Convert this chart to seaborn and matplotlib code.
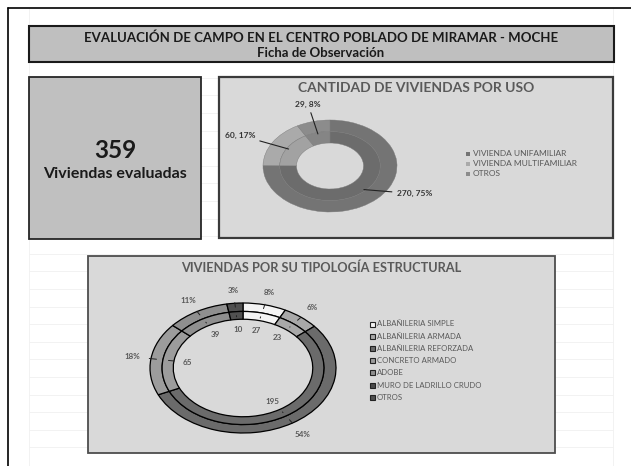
import numpy as np
import matplotlib
matplotlib.use("Agg")
import matplotlib.pyplot as plt
import seaborn as sns
from matplotlib.patches import Rectangle

total_viviendas = 359
uso_labels = ["VIVIENDA UNIFAMILIAR", "VIVIENDA MULTIFAMILIAR", "OTROS"]
uso_values = [270, 60, 29]
tipo_labels = ["ALBAÑILERIA SIMPLE", "ALBAÑILERIA ARMADA", "ALBAÑILERIA REFORZADA",
               "CONCRETO ARMADO", "ADOBE", "MURO DE LADRILLO CRUDO", "OTROS"]
tipo_values = [27, 23, 195, 65, 39, 0, 10]

# Grey palette (picture is greyscale)
uso_colors = ["#747474", "#aaaaaa", "#8c8c8c"]
uso_inner = ["#6c6c6c", "#a2a2a2", "#858585"]
tipo_colors = ["#f4f4f4", "#a8a8a8", "#6b6b6b", "#9c9c9c", "#8f8f8f", "#4a4a4a", "#505050"]

sns.set_style("white")
plt.rcParams["font.family"] = ["Lato", "DejaVu Sans"]

W, H = 631, 466
fig = plt.figure(figsize=(W / 100, H / 100), dpi=100)
fig.patch.set_facecolor("white")

# Background axes in pixel coordinates
bg = fig.add_axes([0, 0, 1, 1])
bg.set_xlim(0, W)
bg.set_ylim(H, 0)
bg.axis("off")


def px_axes(x0, y0, x1, y1):
    return fig.add_axes([x0 / W, 1 - y1 / H, (x1 - x0) / W, (y1 - y0) / H])


# faint spreadsheet grid
bg.hlines(np.arange(25, 460, 17.6), 29, 613, color="#f0f0f0", lw=0.6, zorder=0)
bg.vlines([29, 613], 8, H, color="#f0f0f0", lw=0.6, zorder=0)

# outer frame
bg.plot([8, 8], [8, H], color="black", lw=1.2, zorder=1)
bg.plot([8, W], [8, 8], color="black", lw=1.2, zorder=1)

# boxes
bg.add_patch(Rectangle((29, 26), 585, 36, facecolor="#bfbfbf", edgecolor="#1a1a1a", lw=1.5, zorder=2))
bg.add_patch(Rectangle((29, 77), 172, 162, facecolor="#c0c0c0", edgecolor="#262626", lw=1.3, zorder=2))
bg.add_patch(Rectangle((219, 77), 394, 161, facecolor="#d9d9d9", edgecolor="#3a3a3a", lw=1.6, zorder=2))
bg.add_patch(Rectangle((88, 256), 467, 197, facecolor="#d9d9d9", edgecolor="#4d4d4d", lw=1.3, zorder=2))

# header text
bg.text(321, 38, "EVALUACIÓN DE CAMPO EN EL CENTRO POBLADO DE MIRAMAR - MOCHE",
        ha="center", va="center", fontsize=9.5, fontweight="bold", color="#1a1a1a", zorder=3)
bg.text(321, 53, "Ficha de Observación", ha="center", va="center",
        fontsize=9.5, fontweight="bold", color="#1a1a1a", zorder=3)

# KPI box
bg.text(115, 150, str(total_viviendas), ha="center", va="center",
        fontsize=17.5, fontweight="bold", color="#1a1a1a", zorder=3)
bg.text(115, 174, "Viviendas evaluadas", ha="center", va="center",
        fontsize=11.5, fontweight="bold", color="#1a1a1a", zorder=3)

# panel titles
bg.text(416, 88, "CANTIDAD DE VIVIENDAS POR USO", ha="center", va="center",
        fontsize=10, fontweight="bold", color="#5a5a5a", zorder=3)
bg.text(321, 268, "VIVIENDAS POR SU TIPOLOGÍA ESTRUCTURAL", ha="center", va="center",
        fontsize=9.2, fontweight="bold", color="#5a5a5a", zorder=3)

# legends
for i, (lab, col) in enumerate(zip(uso_labels, uso_colors)):
    y = 154 + i * 10
    bg.add_patch(Rectangle((466, y - 2), 4, 4, facecolor=col, edgecolor="none", zorder=3))
    bg.text(473, y, lab, ha="left", va="center", fontsize=6, color="#595959", zorder=3)

for i, (lab, col) in enumerate(zip(tipo_labels, tipo_colors)):
    y = 324 + i * 12.2
    bg.add_patch(Rectangle((370, y - 2.5), 5, 5, facecolor=col, edgecolor="#222222", lw=0.8, zorder=3))
    bg.text(377, y, lab, ha="left", va="center", fontsize=5.6, color="#595959", zorder=3)


def pct(v, tot):
    return f"{round(100 * v / tot):.0f}%"


def mid_angles(values):
    tot = sum(values)
    start = 90.0
    out = []
    for v in values:
        span = 360.0 * v / tot
        out.append(np.deg2rad(start - span / 2))
        start -= span
    return out


# ---- donut 1: uso ----
ax1 = px_axes(263, 120, 397, 212)
ax1.pie(uso_values, colors=uso_colors, startangle=90, counterclock=False, radius=1.0,
        wedgeprops=dict(width=0.25, edgecolor="#7a7a7a", linewidth=0.3))
ax1.pie(uso_values, colors=uso_inner, startangle=90, counterclock=False, radius=0.75,
        wedgeprops=dict(width=0.25, edgecolor="#7a7a7a", linewidth=0.3))
ax1.set_aspect("auto")
ax1.set_xlim(-1, 1)
ax1.set_ylim(-1, 1)
ax1.axis("off")

tot = sum(uso_values)
for v, a in zip(uso_values, mid_angles(uso_values)):
    c, s = np.cos(a), np.sin(a)
    R = 1.3
    tx, ty = R * c, R * s
    if abs(c) < 0.4:
        ha, va = "center", "bottom"
    else:
        ha = "left" if c > 0 else "right"
        va = "center"
    if s < -0.3:
        ty = ty * 0.65
        tx = tx + 0.08
    ax1.annotate(f"{v}, {pct(v, tot)}", xy=(0.72 * c, 0.72 * s), xytext=(tx, ty),
                 ha=ha, va=va, fontsize=6, fontweight="bold", color="#333333",
                 arrowprops=dict(arrowstyle="-", color="#222222", lw=0.8, shrinkA=1, shrinkB=0),
                 annotation_clip=False)

# ---- donut 2: tipologia ----
ax2 = px_axes(150, 303, 336, 433)
nz = [(v, c) for v, c in zip(tipo_values, tipo_colors) if v > 0]
vals = [v for v, _ in nz]
cols = [c for _, c in nz]
ax2.pie(vals, colors=cols, startangle=90, counterclock=False, radius=1.0,
        wedgeprops=dict(width=0.13, edgecolor="black", linewidth=0.9))
ax2.pie(vals, colors=cols, startangle=90, counterclock=False, radius=0.87,
        wedgeprops=dict(width=0.12, edgecolor="black", linewidth=0.9))
ax2.set_aspect("auto")
ax2.set_xlim(-1, 1)
ax2.set_ylim(-1, 1)
ax2.axis("off")

tot2 = sum(vals)
for v, a in zip(vals, mid_angles(vals)):
    c, s = np.cos(a), np.sin(a)
    # outer ring: percentage
    ax2.annotate(pct(v, tot2), xy=(0.94 * c, 0.94 * s), xytext=(1.2 * c, 1.2 * s),
                 ha="center", va="center", fontsize=5.8, fontweight="bold", color="#595959",
                 arrowprops=dict(arrowstyle="-", color="#222222", lw=0.7, shrinkA=4, shrinkB=0),
                 annotation_clip=False)
    # inner ring: count
    ax2.annotate(str(v), xy=(0.81 * c, 0.81 * s), xytext=(0.6 * c, 0.6 * s),
                 ha="center", va="center", fontsize=5.8, fontweight="bold", color="#595959",
                 arrowprops=dict(arrowstyle="-", color="#222222", lw=0.7, shrinkA=4, shrinkB=0),
                 annotation_clip=False)

fig.savefig("out.png", dpi=100)
